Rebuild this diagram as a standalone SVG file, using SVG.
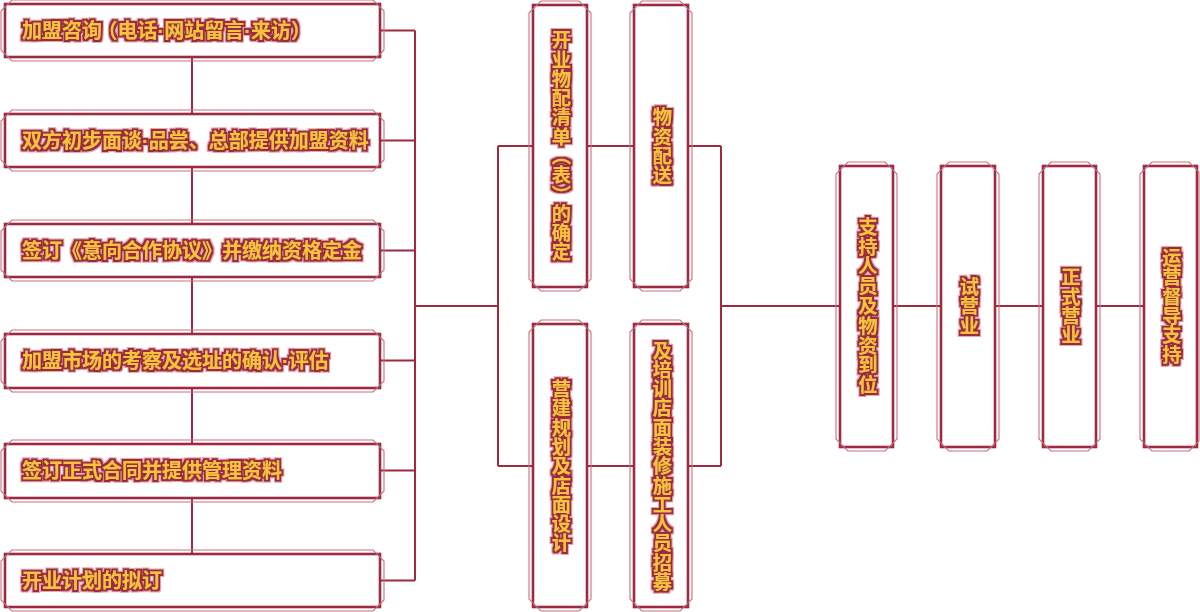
<svg xmlns="http://www.w3.org/2000/svg" width="1200" height="612" viewBox="0 0 1200 612">
<style>
.bx{fill:#fff;stroke:#9c2a40;stroke-width:2.6}
.dc{fill:none;stroke:#c8707f;stroke-width:1.1}
.ln{fill:none;stroke:#9c2a40;stroke-width:2}
.t{font-family:"Liberation Sans","Noto Sans CJK SC","Noto Sans CJK JP",sans-serif;font-weight:700;font-size:20px;fill:#f7c33c;dominant-baseline:central;filter:url(#ol)}
.v{writing-mode:vertical-rl;text-anchor:middle;font-size:19.3px}
.h{font-feature-settings:"halt"}
</style>
<defs>
<filter id="ol" x="-30%" y="-50%" width="160%" height="200%">
<feMorphology in="SourceAlpha" operator="dilate" radius="2.6" result="d2"/>
<feFlood flood-color="#e7a7ae"/>
<feComposite in2="d2" operator="in" result="halo"/>
<feMorphology in="SourceAlpha" operator="dilate" radius="1.9" result="d"/>
<feFlood flood-color="#9c2a40"/>
<feComposite in2="d" operator="in" result="outline"/>
<feMerge><feMergeNode in="halo"/><feMergeNode in="outline"/><feMergeNode in="SourceGraphic"/></feMerge>
</filter>
</defs>
<rect width="1200" height="612" fill="#fff"/>
<g id="connectors">
<path class="ln" d="M192 57V114M192 167V224M192 277V334M192 388V444M192 498V554"/>
<path class="ln" d="M380 30.5H415M380 140.5H415M380 250.5H415M380 360.5H415M380 470.5H415M380 580.5H415M415 30.5V580.5M415 306H498M498 146V466M498 146H533M498 466H533M587 146H634M587 466H634M688 146H721M688 466H721M721 146V466M721 306H840M893 306H941M995 306H1043M1096 306H1144"/>
</g>
<g id="n1"><rect class="bx" x="5" y="4" width="375" height="53"/><path class="dc" d="M12 0H373L384 11V50L373 61H12L1 50V11Z"/><text class="t" x="22" y="30.5">加盟咨询 <tspan class="h">（</tspan>电话·网站留言·来访<tspan class="h">）</tspan></text></g>
<g id="n2"><rect class="bx" x="5" y="114" width="375" height="53"/><path class="dc" d="M12 110H373L384 121V160L373 171H12L1 160V121Z"/><text class="t" x="22" y="140.5">双方初步面谈·品尝、总部提供加盟资料</text></g>
<g id="n3"><rect class="bx" x="5" y="224" width="375" height="53"/><path class="dc" d="M12 220H373L384 231V270L373 281H12L1 270V231Z"/><text class="t" x="22" y="250.5">签订《意向合作协议》并缴纳资格定金</text></g>
<g id="n4"><rect class="bx" x="5" y="334" width="375" height="54"/><path class="dc" d="M12 330H373L384 341V381L373 392H12L1 381V341Z"/><text class="t" x="22" y="361">加盟市场的考察及选址的确认·评估</text></g>
<g id="n5"><rect class="bx" x="5" y="444" width="375" height="54"/><path class="dc" d="M12 440H373L384 451V491L373 502H12L1 491V451Z"/><text class="t" x="22" y="471">签订正式合同并提供管理资料</text></g>
<g id="n6"><rect class="bx" x="5" y="554" width="375" height="53"/><path class="dc" d="M12 550H373L384 561V600L373 611H12L1 600V561Z"/><text class="t" x="22" y="580.5">开业计划的拟订</text></g>
<g id="n7"><rect class="bx" x="533" y="5" width="54" height="282"/><path class="dc" d="M541 1H579L591 13V279L579 291H541L529 279V13Z"/><text class="t v" x="560" y="146">开业物配清单（表）的确定</text></g>
<g id="n8"><rect class="bx" x="634" y="5" width="54" height="282"/><path class="dc" d="M642 1H680L692 13V279L680 291H642L630 279V13Z"/><text class="t v" x="661" y="146">物资配送</text></g>
<g id="n9"><rect class="bx" x="533" y="324" width="54" height="283"/><path class="dc" d="M541 320H579L591 332V599L579 611H541L529 599V332Z"/><text class="t v" x="560" y="466">营建规划及店面设计</text></g>
<g id="n10"><rect class="bx" x="634" y="324" width="54" height="283"/><path class="dc" d="M642 320H680L692 332V599L680 611H642L630 599V332Z"/><text class="t v" x="661" y="466">及培训店面装修施工人员招募</text></g>
<g id="n11"><rect class="bx" x="840" y="166" width="53" height="281"/><path class="dc" d="M848 162H885L897 174V439L885 451H848L836 439V174Z"/><text class="t v" x="866.5" y="306" style="letter-spacing:0.5px">支持人员及物资到位</text></g>
<g id="n12"><rect class="bx" x="941" y="166" width="54" height="281"/><path class="dc" d="M949 162H987L999 174V439L987 451H949L937 439V174Z"/><text class="t v" x="968" y="306">试营业</text></g>
<g id="n13"><rect class="bx" x="1043" y="166" width="53" height="281"/><path class="dc" d="M1051 162H1088L1100 174V439L1088 451H1051L1039 439V174Z"/><text class="t v" x="1069.5" y="306">正式营业</text></g>
<g id="n14"><rect class="bx" x="1144" y="166" width="53" height="281"/><path class="dc" d="M1152 162H1189L1199 172V441L1189 451H1152L1140 439V174Z"/><text class="t v" x="1170.5" y="306">运营督导支持</text></g>
</svg>
